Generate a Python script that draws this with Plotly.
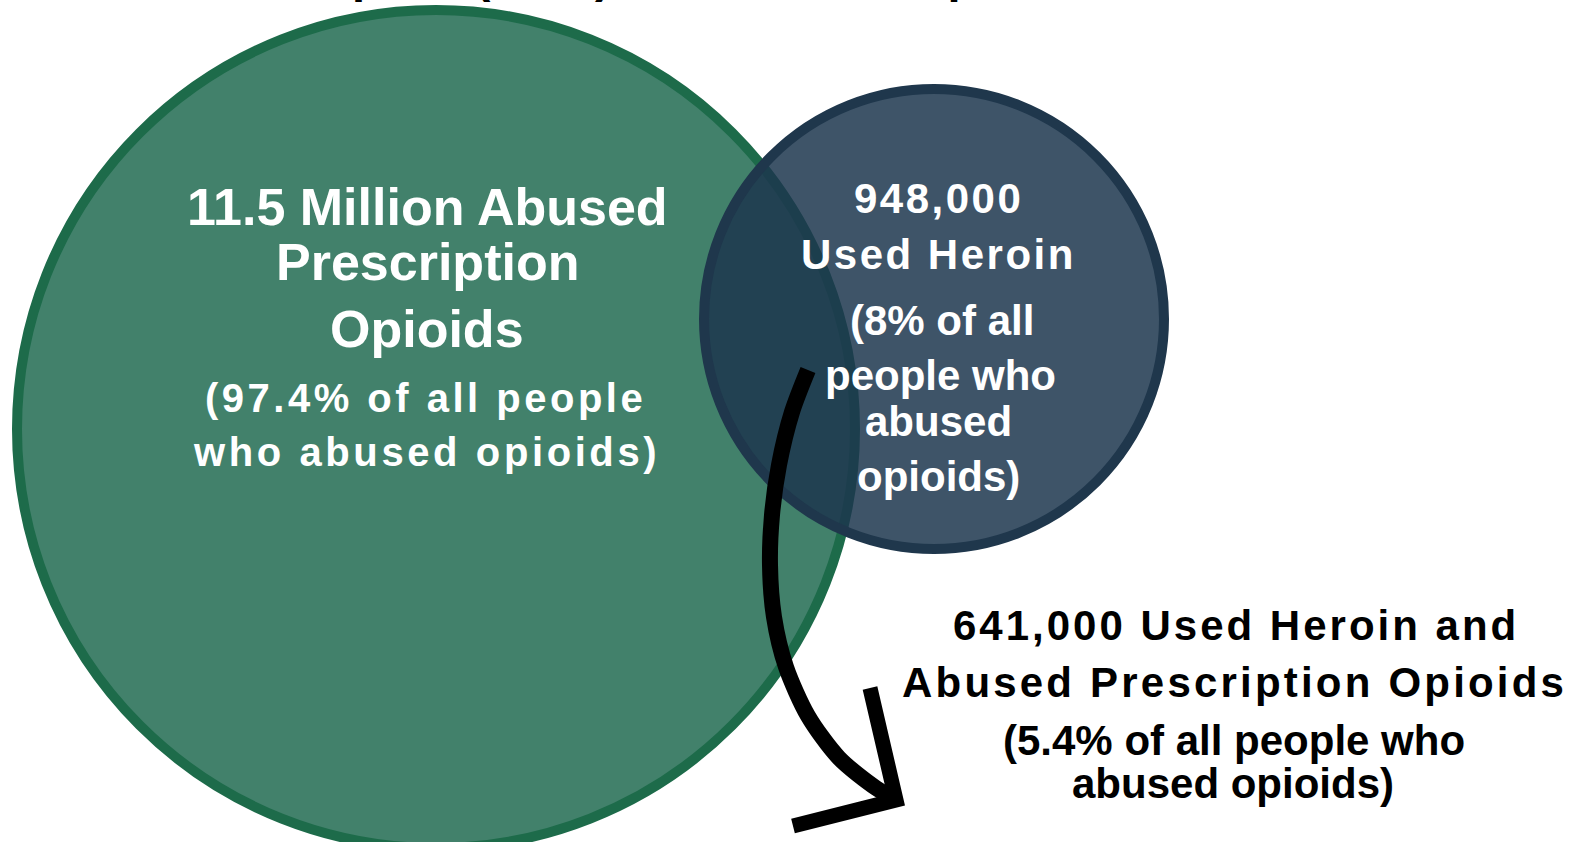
import plotly.graph_objects as go

# ---- data -------------------------------------------------------------
groups = ["Abused Prescription Opioids", "Used Heroin",
          "Used Heroin and Abused Prescription Opioids"]
count_labels = ["11.5 Million", "948,000", "641,000"]
shares_pct = [97.4, 8, 5.4]
title_text = "Heroin and Opiate (2014) for the U.S. Population"

# ---- canvas / geometry (pixel units on hidden axes) -------------------
W, H = 1578, 842
FONT = "Liberation Sans, Arial, Helvetica, sans-serif"

green_circle = dict(cx=436, cy=429, r=419)
blue_circle = dict(cx=934, cy=319, r=230)

arrow_x = [808, 792, 779, 772, 770, 774, 786, 808, 839, 876, 897]
arrow_y = [370, 412, 465, 515, 565, 617, 667, 716, 758, 788, 800]
arrow_head = "M 870 688 L 896 800 L 793 826"


def spaced(txt, ls):
    if ls == 0:
        return txt
    return f'<span style="letter-spacing:{ls}px">{txt}</span>'


fig = go.Figure()

shapes = [
    dict(type="circle", xref="x", yref="y",
         x0=green_circle["cx"] - green_circle["r"], x1=green_circle["cx"] + green_circle["r"],
         y0=green_circle["cy"] - green_circle["r"], y1=green_circle["cy"] + green_circle["r"],
         fillcolor="#42816b", line=dict(color="#1d6b4a", width=10), layer="below"),
    dict(type="circle", xref="x", yref="y",
         x0=blue_circle["cx"] - blue_circle["r"], x1=blue_circle["cx"] + blue_circle["r"],
         y0=blue_circle["cy"] - blue_circle["r"], y1=blue_circle["cy"] + blue_circle["r"],
         fillcolor="rgba(28,54,77,0.85)", line=dict(color="#1f374c", width=10), layer="below"),
    dict(type="path", xref="x", yref="y", path=arrow_head,
         line=dict(color="black", width=15), layer="above"),
]

# curved arrow shaft
fig.add_trace(go.Scatter(x=arrow_x, y=arrow_y, mode="lines",
                         line=dict(color="black", width=16, shape="spline", smoothing=0.8),
                         hoverinfo="skip"))

# text lines: (text, center x, baseline y, size, letter spacing, color)
lines = [
    (f"{count_labels[0]} Abused", 427, 225, 52, 0, "white"),
    ("Prescription", 427, 280, 52, 0, "white"),
    ("Opioids", 427, 347, 52, 0, "white"),
    (f"({shares_pct[0]}% of all people", 425, 412, 40, 3.5, "white"),
    ("who abused opioids)", 426, 466, 40, 3.6, "white"),
    (count_labels[1], 938, 213, 42, 2.5, "white"),
    (groups[1], 938, 269, 42, 2.5, "white"),
    (f"({shares_pct[1]}% of all", 942, 335, 42, 0, "white"),
    ("people who", 940, 390, 42, 0, "white"),
    ("abused", 938, 436, 42, 0, "white"),
    ("opioids)", 938, 491, 42, 0, "white"),
    (f"{count_labels[2]} Used Heroin and", 1236, 640, 42, 3.0, "black"),
    ("Abused Prescription Opioids", 1234, 697, 42, 3.2, "black"),
    (f"({shares_pct[2]}% of all people who", 1234, 755, 42, 0, "black"),
    ("abused opioids)", 1233, 798, 42, 0, "black"),
]

annotations = []
for txt, x, base, size, ls, col in lines:
    annotations.append(dict(
        x=x, y=base - 0.35 * size, xref="x", yref="y",
        text=f"<b>{spaced(txt, ls)}</b>", showarrow=False,
        xanchor="center", yanchor="middle",
        font=dict(family=FONT, size=size, color=col)))

# page heading, sitting above the top edge of the canvas
title_size = 47
title_baseline = -8
annotations.append(dict(
    x=55 / W, y=1 + (0.35 * title_size - title_baseline) / H,
    xref="paper", yref="paper", text=f"<b>{title_text}</b>",
    showarrow=False, xanchor="left", yanchor="middle",
    font=dict(family=FONT, size=title_size, color="black")))

fig.update_layout(
    width=W, height=H, margin=dict(l=0, r=0, t=0, b=0, pad=0),
    paper_bgcolor="white", plot_bgcolor="white",
    showlegend=False, shapes=shapes, annotations=annotations,
    xaxis=dict(range=[0, W], visible=False, fixedrange=True),
    yaxis=dict(range=[H, 0], visible=False, fixedrange=True),
)

fig.write_html("out.html", config={"displayModeBar": False})
